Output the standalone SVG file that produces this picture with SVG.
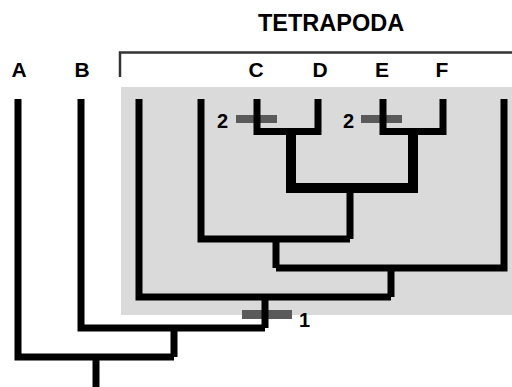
<svg xmlns="http://www.w3.org/2000/svg" width="512" height="387" viewBox="0 0 512 387">
<style>
.lbl{font-family:"Liberation Sans",Arial,sans-serif;font-weight:bold;fill:#000;text-anchor:middle}
.num{font-family:"Liberation Sans",Arial,sans-serif;font-weight:bold;fill:#000;font-size:20px}
.br{fill:none;stroke:#000;stroke-width:7;stroke-linejoin:miter;stroke-linecap:butt}
.thick{fill:none;stroke:#000;stroke-width:10;stroke-linejoin:miter}
.mark{fill:#5a5a5a}
</style>
<rect width="512" height="387" fill="#ffffff"/>
<g id="tetrapoda-box">
<rect x="121" y="87" width="391" height="228" fill="#dadada"/>
<path d="M120,77 V52.5 H512" fill="none" stroke="#333" stroke-width="2.5"/>
<text class="lbl" x="331" y="30.5" font-size="23.5">TETRAPODA</text>
</g>
<g id="marks">
<rect class="mark" x="236" y="115" width="41" height="8"/>
<rect class="mark" x="361" y="115" width="41" height="8"/>
<rect class="mark" x="242" y="310" width="50" height="9"/>
</g>
<g id="connectors">
<path class="br" d="M18,99 V357 H174 M96,357 V387 M174,357 V328"/>
<path class="br" d="M81,99 V328 H265 M265,328 V297"/>
<path class="br" d="M139,99 V297 H391 M391,297 V268"/>
<path class="br" d="M504,99 V268 H276 M276,268 V239"/>
<path class="br" d="M201,99 V239 H350 M350,239 V188"/>
<path class="thick" d="M291,131 V188 H413 V131"/>
<path class="br" d="M257,99 V131.5 H318 V99"/>
<path class="br" d="M383,99 V131.5 H443 V99"/>
</g>
<g id="node-A"><text class="lbl" x="19" y="77" font-size="21">A</text></g>
<g id="node-B"><text class="lbl" x="82" y="77" font-size="21">B</text></g>
<g id="node-C"><text class="lbl" x="256" y="77" font-size="21">C</text></g>
<g id="node-D"><text class="lbl" x="320" y="77" font-size="21">D</text></g>
<g id="node-E"><text class="lbl" x="382" y="77" font-size="21">E</text></g>
<g id="node-F"><text class="lbl" x="442" y="77" font-size="21">F</text></g>
<g id="labels">
<text class="num" x="228" y="128" text-anchor="end">2</text>
<text class="num" x="354" y="128" text-anchor="end">2</text>
<text class="num" x="299" y="327" font-size="21">1</text>
</g>
</svg>
